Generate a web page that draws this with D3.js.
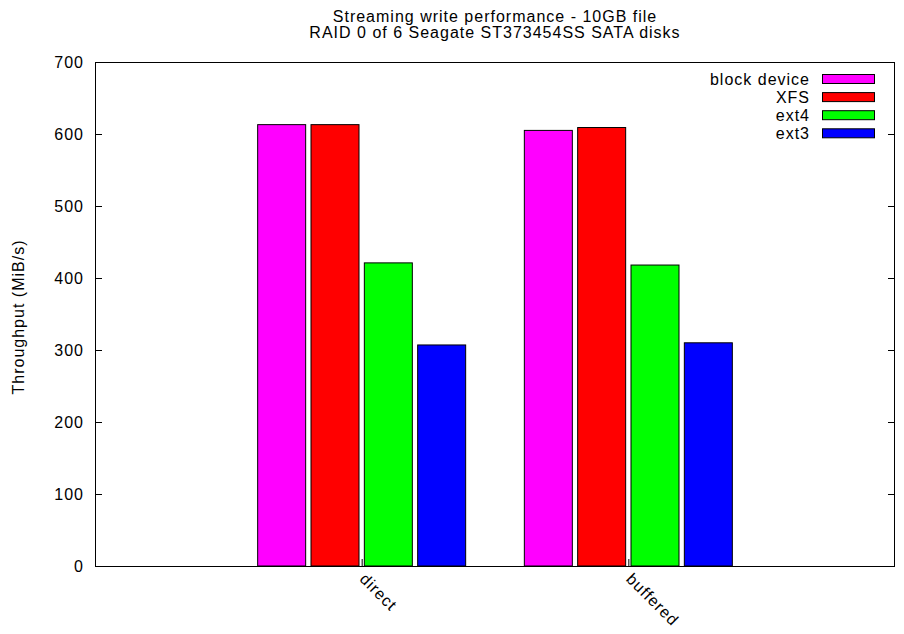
<!DOCTYPE html>
<html lang="en">
<head>
    <meta charset="utf-8">
    <title>Streaming write performance</title>
    <script type="text/javascript" src="https://d3js.org/d3.v7.min.js"></script>
    <style>
        body { margin: 0; background: #fff; }
        text { font-family: "Liberation Sans", Arial, sans-serif; font-size: 16px; letter-spacing: 1px; fill: #000; }
        .bar { stroke: #000; stroke-width: 1; }
        .frame { fill: none; stroke: #000; stroke-width: 1; }
    </style>
</head>
<body>
<div id="container"></div>
<script type="text/javascript">
    // data
    const categories = ["direct", "buffered"];
    const seriesNames = ["block device", "XFS", "ext4", "ext3"];
    const seriesColors = ["#ff00ff", "#ff0000", "#00ff00", "#0000ff"];
    const blockDevice = [613, 605];
    const xfs = [613, 609];
    const ext4 = [421, 418];
    const ext3 = [307, 310];
    const yTicks = [0, 100, 200, 300, 400, 500, 600, 700];
    const titleLines = ["Streaming write performance - 10GB file", "RAID 0 of 6 Seagate ST373454SS SATA disks"];

    const series = [blockDevice, xfs, ext4, ext3];

    const w = 904;
    const h = 634;
    const plotL = 95, plotR = 895, plotT = 62, plotB = 566;

    const svg = d3.select("div#container").append("svg")
        .attr("width", w)
        .attr("height", h);

    const x = d3.scaleLinear().domain([-1, 2]).range([plotL, plotR]);
    const y = d3.scaleLinear().domain([0, 700]).range([plotB, plotT]);

    // bars
    const slot = 0.2;
    const bw = 0.18;
    series.forEach(function (vals, j) {
        svg.append("g").selectAll("rect")
            .data(vals)
            .enter()
            .append("rect")
            .attr("class", "bar")
            .attr("fill", seriesColors[j])
            .attr("x", function (d, i) { return x(i + (j - 1.5) * slot - bw / 2); })
            .attr("width", x(bw) - x(0))
            .attr("y", function (d) { return y(d); })
            .attr("height", function (d) { return y(0) - y(d); });
    });

    // y axis, ticks inward, mirrored on the right
    const yAxis = svg.append("g")
        .attr("transform", "translate(" + plotL + ",0)")
        .call(d3.axisLeft(y).tickValues(yTicks).tickSize(-7).tickPadding(11));
    yAxis.select(".domain").remove();
    yAxis.selectAll("text").attr("font-size", null).attr("font-family", null);
    yAxis.attr("font-size", null).attr("font-family", null);

    const yAxisR = svg.append("g")
        .attr("transform", "translate(" + plotR + ",0)")
        .call(d3.axisRight(y).tickValues(yTicks).tickSize(-7).tickFormat(""));
    yAxisR.select(".domain").remove();

    // x ticks
    const xAxis = svg.append("g")
        .attr("transform", "translate(0," + plotB + ")")
        .call(d3.axisBottom(x).tickValues([0, 1]).tickSize(-7).tickFormat(""));
    xAxis.select(".domain").remove();

    svg.append("g").selectAll("text")
        .data(categories)
        .enter()
        .append("text")
        .text(function (d) { return d; })
        .attr("transform", function (d, i) {
            return "translate(" + (x(i) - 3) + "," + (plotB + 14) + ") rotate(45)";
        });

    // frame
    svg.append("rect")
        .attr("class", "frame")
        .attr("x", plotL + 0.5)
        .attr("y", plotT + 0.5)
        .attr("width", plotR - plotL - 1)
        .attr("height", plotB - plotT);

    // title
    svg.append("g").selectAll("text")
        .data(titleLines)
        .enter()
        .append("text")
        .attr("x", (plotL + plotR) / 2)
        .attr("y", function (d, i) { return 21.5 + i * 16; })
        .attr("text-anchor", "middle")
        .text(function (d) { return d; });

    // y label
    svg.append("text")
        .attr("transform", "translate(24,317) rotate(-90)")
        .attr("text-anchor", "middle")
        .text("Throughput (MiB/s)");

    // legend
    const legend = svg.append("g").selectAll("g")
        .data(seriesNames)
        .enter()
        .append("g")
        .attr("transform", function (d, i) { return "translate(0," + (79 + i * 18.1) + ")"; });
    legend.append("text")
        .attr("x", 810)
        .attr("y", 5.5)
        .attr("text-anchor", "end")
        .text(function (d) { return d; });
    legend.append("rect")
        .attr("class", "bar")
        .attr("x", 822.5)
        .attr("y", -4.5)
        .attr("width", 52)
        .attr("height", 9)
        .attr("fill", function (d, i) { return seriesColors[i]; });
</script>
</body>
</html>
